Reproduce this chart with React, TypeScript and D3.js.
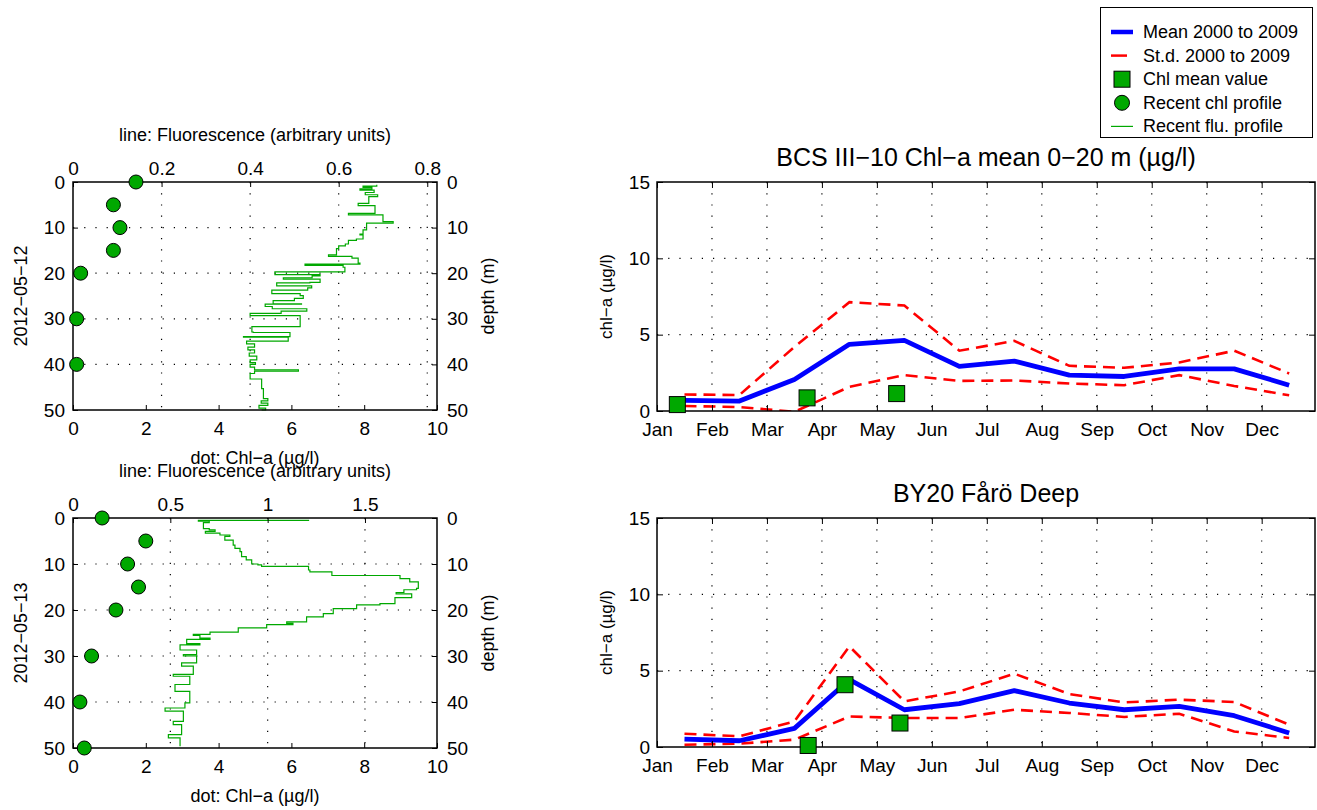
import React, { useEffect, useRef } from 'react';
import * as d3 from 'd3';

const FONT = '"Liberation Sans", Arial, Helvetica, sans-serif';
const GREEN = '#00a800';

// ---- seasonal panels (right) ----
const monthLabels = ['Jan', 'Feb', 'Mar', 'Apr', 'May', 'Jun', 'Jul', 'Aug', 'Sep', 'Oct', 'Nov', 'Dec'];
const monthTicks = [1, 2, 3, 4, 5, 6, 7, 8, 9, 10, 11, 12];
const monthMid = [1.5, 2.5, 3.5, 4.5, 5.5, 6.5, 7.5, 8.5, 9.5, 10.5, 11.5, 12.5];
const chlTicks = [0, 5, 10, 15];

const bcsMean = [0.7, 0.65, 2.07, 4.37, 4.63, 2.92, 3.27, 2.35, 2.26, 2.76, 2.76, 1.69];
const bcsStdHigh = [1.08, 1.05, 4.2, 7.13, 6.91, 3.95, 4.59, 2.96, 2.83, 3.18, 3.95, 2.46];
const bcsStdLow = [0.33, 0.26, -0.05, 1.58, 2.35, 1.97, 2.0, 1.8, 1.69, 2.35, 1.64, 1.03];
const bcsObsMonth = [1.37, 3.73, 5.36];
const bcsObsChl = [0.42, 0.86, 1.14];

const by20Mean = [0.52, 0.41, 1.22, 4.41, 2.44, 2.84, 3.69, 2.88, 2.44, 2.66, 2.05, 0.92];
const by20StdHigh = [0.87, 0.7, 1.68, 6.59, 2.99, 3.64, 4.8, 3.47, 2.92, 3.1, 2.95, 1.46];
const by20StdLow = [0.15, 0.22, 0.48, 2.0, 1.9, 1.9, 2.44, 2.23, 1.97, 2.18, 1.02, 0.59];
const by20ObsMonth = [3.75, 4.42, 5.42];
const by20ObsChl = [0.1, 4.08, 1.57];

// ---- profile panels (left) ----
const depthTicks = [0, 10, 20, 30, 40, 50];
const chlAxisTicks = [0, 2, 4, 6, 8, 10];

const dotDepth0512 = [0, 5, 10, 15, 20, 30, 40];
const dotChl0512 = [1.73, 1.11, 1.29, 1.11, 0.21, 0.1, 0.1];
const fluTicks0512 = [0, 0.2, 0.4, 0.6, 0.8];
// [depth, fluorescence]
const flu0512: [number, number][] = [
  [0.6, 0.686], [0.9, 0.655], [1.2, 0.675], [1.5, 0.648], [1.8, 0.68], [2.3, 0.66], [2.8, 0.688],
  [3.2, 0.668], [4.0, 0.668], [4.7, 0.644], [5.2, 0.682], [6.6, 0.682], [6.9, 0.622], [7.2, 0.7],
  [8.5, 0.7], [8.7, 0.723], [9.0, 0.663], [10.2, 0.663], [10.5, 0.655], [11.4, 0.648], [11.6, 0.655],
  [12.5, 0.64], [12.8, 0.622], [13.6, 0.615], [14.0, 0.6], [14.6, 0.595], [15.2, 0.595], [16.0, 0.577],
  [16.3, 0.63], [16.7, 0.644], [17.8, 0.648], [18.0, 0.524], [18.3, 0.61], [18.7, 0.614], [19.6, 0.614],
  [19.7, 0.456], [20.3, 0.558], [20.6, 0.54], [21.0, 0.475], [21.3, 0.558], [22.0, 0.535], [22.1, 0.46],
  [22.8, 0.539], [23.2, 0.53], [23.7, 0.449], [24.5, 0.513], [24.9, 0.52], [25.5, 0.5], [26.0, 0.452],
  [26.7, 0.516], [26.8, 0.434], [27.3, 0.45], [27.8, 0.528], [28.3, 0.47], [28.8, 0.4], [29.3, 0.513],
  [31.5, 0.513], [31.7, 0.404], [32.9, 0.407], [33.0, 0.49], [33.9, 0.385], [34.0, 0.486], [34.9, 0.392],
  [35.5, 0.41], [36.2, 0.395], [36.8, 0.41], [37.5, 0.398], [38.2, 0.415], [39.0, 0.4], [39.6, 0.412],
  [40.0, 0.4], [40.6, 0.41], [41.2, 0.509], [41.5, 0.41], [42.0, 0.4], [43.0, 0.4], [43.2, 0.426],
  [45.0, 0.426], [45.3, 0.43], [47.0, 0.43], [47.5, 0.44], [48.0, 0.425], [48.5, 0.44], [49.0, 0.42],
  [49.6, 0.435], [50, 0.426],
];

const dotDepth0513 = [0, 5, 10, 15, 20, 30, 40, 50];
const dotChl0513 = [0.8, 2.0, 1.5, 1.8, 1.18, 0.51, 0.19, 0.31];
const fluTicks0513 = [0, 0.5, 1, 1.5];
const flu0513: [number, number][] = [
  [0.4, 1.21], [0.5, 0.644], [0.7, 0.7], [1.0, 0.67], [1.9, 0.67], [2.3, 0.7], [2.6, 0.73], [2.9, 0.68],
  [3.3, 0.755], [3.7, 0.806], [4.0, 0.78], [4.8, 0.823], [5.9, 0.832], [6.6, 0.858], [7.3, 0.866],
  [8.4, 0.89], [9.1, 0.918], [10.0, 0.95], [10.2, 0.969], [10.5, 1.21], [11.3, 1.217], [11.7, 1.33],
  [12.3, 1.33], [12.5, 1.68], [13.2, 1.73], [13.9, 1.774], [15.3, 1.765], [15.6, 1.7], [16.2, 1.66],
  [16.5, 1.74], [16.8, 1.74], [17.3, 1.654], [18.6, 1.577], [18.9, 1.457], [19.7, 1.337], [20.8, 1.286],
  [21.5, 1.2], [22.6, 1.098], [22.9, 1.13], [23.2, 0.995], [23.9, 0.849], [24.8, 0.704], [25.3, 0.618],
  [25.5, 0.652], [26.1, 0.704], [26.4, 0.584], [27.3, 0.652], [27.6, 0.55], [28.7, 0.635], [29.7, 0.567],
  [30.0, 0.635], [31.5, 0.558], [32.2, 0.618], [34.0, 0.515], [34.4, 0.6], [36.2, 0.524], [37.7, 0.6],
  [39.8, 0.6], [40.2, 0.575], [41.3, 0.473], [42.0, 0.567], [44.2, 0.515], [44.9, 0.558], [47.1, 0.49],
  [47.8, 0.55], [49.6, 0.55],
];

function styleAxis(g: any, size = 19) {
  g.select('.domain').remove();
  g.selectAll('line').attr('stroke', '#000').attr('stroke-width', 1);
  g.selectAll('text').attr('font-family', FONT).attr('font-size', size).attr('fill', '#000');
  g.attr('font-family', FONT).attr('font-size', size);
}

function dotted(g: any, x1: number, y1: number, x2: number, y2: number) {
  g.append('line')
    .attr('x1', x1).attr('y1', y1).attr('x2', x2).attr('y2', y2)
    .attr('stroke', '#000').attr('stroke-width', 1.2)
    .attr('stroke-dasharray', '1.2,10');
}

function drawProfile(svg: any, top: number, bottom: number, fluMax: number, fluTicks: number[],
  dotDepth: number[], dotChl: number[], flu: [number, number][], date: string) {
  const x0 = 73, x1 = 437;
  const y = d3.scaleLinear().domain([0, 50]).range([top, bottom]);
  const xChl = d3.scaleLinear().domain([0, 10]).range([x0, x1]);
  const xFlu = d3.scaleLinear().domain([0, fluMax]).range([x0, x1]);
  const g = svg.append('g');

  depthTicks.slice(1, -1).forEach((d) => dotted(g, x0, y(d), x1, y(d)));
  fluTicks.filter((v) => v > 0 && xFlu(v) < x1 - 3).forEach((v) => dotted(g, xFlu(v), top, xFlu(v), bottom));

  // profile held constant between samples, jumping at each new depth
  const line = d3.line<[number, number]>().x((p) => xFlu(p[1])).y((p) => y(p[0])).curve(d3.curveStepBefore);
  g.append('path').attr('d', line(flu)).attr('fill', 'none')
    .attr('stroke', GREEN).attr('stroke-width', 1.2);

  g.append('rect').attr('x', x0).attr('y', top).attr('width', x1 - x0).attr('height', bottom - top)
    .attr('fill', 'none').attr('stroke', '#000').attr('stroke-width', 1.5);

  const ax = (a: any, tr: string, pad: number) => {
    const ag = g.append('g').attr('transform', tr).call(a.tickSizeInner(-5).tickSizeOuter(0).tickPadding(pad));
    styleAxis(ag);
    return ag;
  };
  ax(d3.axisTop(xFlu).tickValues(fluTicks).tickFormat(d3.format('')), `translate(0,${top})`, 7);
  ax(d3.axisBottom(xChl).tickValues(chlAxisTicks), `translate(0,${bottom})`, 12);
  ax(d3.axisLeft(y).tickValues(depthTicks), `translate(${x0},0)`, 8);
  ax(d3.axisRight(y).tickValues(depthTicks), `translate(${x1},0)`, 10);

  dotDepth.forEach((d, i) => {
    g.append('circle').attr('cx', xChl(dotChl[i])).attr('cy', y(d)).attr('r', 7)
      .attr('fill', GREEN).attr('stroke', '#000').attr('stroke-width', 1);
  });

  const lab = (t: string, x: number, yy: number, rot = 0) =>
    g.append('text').attr('transform', `translate(${x},${yy}) rotate(${rot})`)
      .attr('text-anchor', 'middle').attr('font-family', FONT).attr('font-size', 18).text(t);
  lab('line: Fluorescence (arbitrary units)', 255, top - 41);
  lab('dot: Chl\u2212a (\u00b5g/l)', 255, bottom + 54);
  lab(date, 27, (top + bottom) / 2, -90);
  lab('depth (m)', 494, (top + bottom) / 2, -90);
}

function drawSeason(svg: any, top: number, bottom: number, title: string, mean: number[], hi: number[],
  lo: number[], obsMonth: number[], obsChl: number[], clipId: string) {
  const x0 = 657, x1 = 1315;
  const x = d3.scaleLinear().domain([1, 12.97]).range([x0, x1]);
  const y = d3.scaleLinear().domain([0, 15]).range([bottom, top]);
  const g = svg.append('g');

  monthTicks.slice(1).forEach((m) => dotted(g, x(m), top, x(m), bottom));
  chlTicks.slice(1, -1).forEach((v) => dotted(g, x0, y(v), x1, y(v)));

  g.append('clipPath').attr('id', clipId).append('rect')
    .attr('x', x0).attr('y', top).attr('width', x1 - x0).attr('height', bottom - top);
  const lines = g.append('g').attr('clip-path', `url(#${clipId})`);
  const line = d3.line<number>().x((_, i) => x(monthMid[i])).y((v) => y(v));
  [hi, lo].forEach((s) => {
    lines.append('path').attr('d', line(s)).attr('fill', 'none').attr('stroke', '#ff0000')
      .attr('stroke-width', 2.6).attr('stroke-dasharray', '12,7');
  });
  lines.append('path').attr('d', line(mean)).attr('fill', 'none').attr('stroke', '#0000ff')
    .attr('stroke-width', 4.8).attr('stroke-linejoin', 'round');

  g.append('rect').attr('x', x0).attr('y', top).attr('width', x1 - x0).attr('height', bottom - top)
    .attr('fill', 'none').attr('stroke', '#000').attr('stroke-width', 1.5);

  const ax = (a: any, tr: string, pad: number) => {
    const ag = g.append('g').attr('transform', tr).call(a.tickSizeInner(-6).tickSizeOuter(0).tickPadding(pad));
    styleAxis(ag);
    return ag;
  };
  ax(d3.axisBottom(x).tickValues(monthTicks).tickFormat((_: any, i: number) => monthLabels[i]), `translate(0,${bottom})`, 12);
  ax(d3.axisTop(x).tickValues(monthTicks).tickFormat(() => ''), `translate(0,${top})`, 0);
  ax(d3.axisLeft(y).tickValues(chlTicks), `translate(${x0},0)`, 7);
  ax(d3.axisRight(y).tickValues(chlTicks).tickFormat(() => ''), `translate(${x1},0)`, 0);

  obsMonth.forEach((m, i) => {
    g.append('rect').attr('x', x(m) - 8).attr('y', y(obsChl[i]) - 8).attr('width', 16).attr('height', 16)
      .attr('fill', GREEN).attr('stroke', '#000').attr('stroke-width', 1);
  });

  g.append('text').attr('x', (x0 + x1) / 2).attr('y', top - 16).attr('text-anchor', 'middle')
    .attr('font-family', FONT).attr('font-size', 25).text(title);
  g.append('text').attr('transform', `translate(612,${(top + bottom) / 2}) rotate(-90)`)
    .attr('text-anchor', 'middle').attr('font-family', FONT).attr('font-size', 17).text('chl\u2212a (\u00b5g/l)');
}

function drawLegend(svg: any) {
  const g = svg.append('g');
  g.append('rect').attr('x', 1100.5).attr('y', 7.5).attr('width', 212).attr('height', 130)
    .attr('fill', '#fff').attr('stroke', '#000').attr('stroke-width', 1);
  const rows = ['Mean 2000 to 2009', 'St.d. 2000 to 2009', 'Chl mean value', 'Recent chl profile', 'Recent flu. profile'];
  rows.forEach((t, i) => {
    const cy = 32 + i * 23.6;
    g.append('text').attr('x', 1143).attr('y', cy + 6).attr('font-family', FONT).attr('font-size', 18).text(t);
    if (i === 0) g.append('line').attr('x1', 1111).attr('x2', 1133).attr('y1', cy).attr('y2', cy).attr('stroke', '#0000ff').attr('stroke-width', 4.5);
    if (i === 1) g.append('line').attr('x1', 1111).attr('x2', 1127).attr('y1', cy).attr('y2', cy).attr('stroke', '#ff0000').attr('stroke-width', 2.5);
    if (i === 2) g.append('rect').attr('x', 1114).attr('y', cy - 8).attr('width', 16).attr('height', 16).attr('fill', GREEN).attr('stroke', '#000');
    if (i === 3) g.append('circle').attr('cx', 1122).attr('cy', cy).attr('r', 7.5).attr('fill', GREEN).attr('stroke', '#000');
    if (i === 4) g.append('line').attr('x1', 1111).attr('x2', 1133).attr('y1', cy).attr('y2', cy).attr('stroke', GREEN).attr('stroke-width', 1.2);
  });
}

export default function App() {
  const ref = useRef<SVGSVGElement>(null);

  useEffect(() => {
    const svg = d3.select(ref.current);
    svg.selectAll('*').remove();
    drawProfile(svg, 182, 410, 0.822, fluTicks0512, dotDepth0512, dotChl0512, flu0512, '2012\u221205\u221212');
    drawProfile(svg, 518, 748, 1.87, fluTicks0513, dotDepth0513, dotChl0513, flu0513, '2012\u221205\u221213');
    drawSeason(svg, 182, 411, 'BCS III\u221210 Chl\u2212a mean 0\u221220 m (\u00b5g/l)', bcsMean, bcsStdHigh, bcsStdLow, bcsObsMonth, bcsObsChl, 'clipBcs');
    drawSeason(svg, 518, 747, 'BY20 F\u00e5r\u00f6 Deep', by20Mean, by20StdHigh, by20StdLow, by20ObsMonth, by20ObsChl, 'clipBy20');
    drawLegend(svg);
  }, []);

  return (
    <svg ref={ref} width={1317} height={810}
      style={{ position: 'absolute', left: 0, top: 0, background: '#fff' }} />
  );
}
